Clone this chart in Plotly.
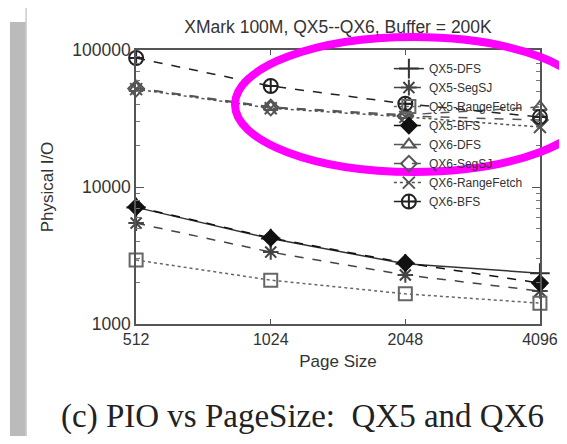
import plotly.graph_objects as go

# page size (x) and physical I/O per method (y)
page_sizes = [512, 1024, 2048, 4096]
qx5_dfs = [7100, 4200, 2750, 2350]
qx5_segsj = [5450, 3350, 2280, 1740]
qx5_rangefetch = [2930, 2090, 1660, 1420]
qx5_bfs = [7150, 4250, 2790, 1990]
qx6_dfs = [52800, 38400, 33600, 38400]
qx6_segsj = [52300, 38000, 33000, 30800]
qx6_rangefetch = [51800, 37600, 32500, 27400]
qx6_bfs = [87400, 54600, 40500, 32400]

y_ticks = [1000, 10000, 100000]

series = [
    ("QX5-DFS", qx5_dfs, "solid", "cross-thin-open", 14, "#333"),
    ("QX5-SegSJ", qx5_segsj, "dash", "asterisk-open", 13, "#444"),
    ("QX5-RangeFetch", qx5_rangefetch, "dot", "square-open", 13, "#666"),
    ("QX5-BFS", qx5_bfs, "dash", "diamond", 12, "#111"),
    ("QX6-DFS", qx6_dfs, "dash", "triangle-up-open", 12, "#555"),
    ("QX6-SegSJ", qx6_segsj, "dash", "diamond-open", 12, "#555"),
    ("QX6-RangeFetch", qx6_rangefetch, "dot", "x-thin-open", 12, "#555"),
    ("QX6-BFS", qx6_bfs, "dash", "circle-cross-open", 14, "#222"),
]

fig = go.Figure()
for name, vals, dash, sym, size, col in series:
    fig.add_trace(go.Scatter(
        x=page_sizes, y=vals, name=name, mode="lines+markers",
        line=dict(color=col, width=1.5, dash=dash),
        marker=dict(symbol=sym, size=size, color=col, line=dict(color=col, width=2)),
        cliponaxis=False,
    ))

# the page body adds an 8px margin, so the figure is kept smaller than the window
font = "Liberation Sans, Arial, sans-serif"
fig.update_layout(
    width=559, height=428,
    margin=dict(l=128, r=27, t=42, b=112),
    paper_bgcolor="white", plot_bgcolor="white",
    font=dict(family=font, size=17, color="#333"),
    title=dict(text="XMark 100M, QX5--QX6, Buffer = 200K", x=0.5, xref="paper",
               y=1 - 19 / 428, yanchor="middle", font=dict(size=17.5, color="#333")),
    showlegend=True,
    legend=dict(x=0.97, y=0.985, xanchor="right", yanchor="top",
                bgcolor="rgba(0,0,0,0)", font=dict(size=12, color="#333"),
                tracegroupgap=0),
)
fig.update_xaxes(
    type="log", range=[2.709, 3.6125], automargin=False,
    tickvals=page_sizes, ticktext=[str(p) for p in page_sizes],
    ticks="inside", ticklen=5, tickcolor="#555", tickfont=dict(size=16),
    ticklabeloverflow="allow",
    showline=True, linecolor="#555", linewidth=1.5, mirror="allticks",
    showgrid=False, zeroline=False,
    title=dict(text="Page Size", font=dict(size=17), standoff=8),
)
fig.update_yaxes(
    type="log", range=[3, 5], automargin=False,
    tickvals=y_ticks, ticktext=[str(v) for v in y_ticks],
    ticks="inside", ticklen=8, tickcolor="#555", tickfont=dict(size=17.5),
    minor=dict(ticks="inside", ticklen=4, tickcolor="#777", dtick="D1", showgrid=False),
    showline=True, linecolor="#555", linewidth=1.5, mirror="allticks",
    showgrid=False, zeroline=False,
    title=dict(text="Physical I/O", font=dict(size=17), standoff=14),
)

# page frame: shadow and card border
fig.add_shape(type="rect", xref="paper", yref="paper", x0=-0.312, x1=-0.272,
              y0=-0.45, y1=1.102, fillcolor="#bbbbbb", line_width=0, layer="below")
fig.add_shape(type="rect", xref="paper", yref="paper", x0=-0.272, x1=1.2,
              y0=-0.423, y1=1.157, line=dict(color="#cccccc", width=1.5), layer="below")

# magenta highlight ellipse
fig.add_shape(type="circle", xref="paper", yref="paper", x0=0.245, x1=1.129,
              y0=0.555, y1=1.047, line=dict(color="#ff00ff", width=8), layer="above")

fig.add_annotation(text="(c) PIO vs PageSize:  QX5 and QX6", xref="paper", yref="paper",
                   x=0.413, y=-0.339, yanchor="middle", showarrow=False,
                   font=dict(family="Liberation Serif, Times New Roman, serif", size=33, color="#222"))

fig.write_html("out.html")
